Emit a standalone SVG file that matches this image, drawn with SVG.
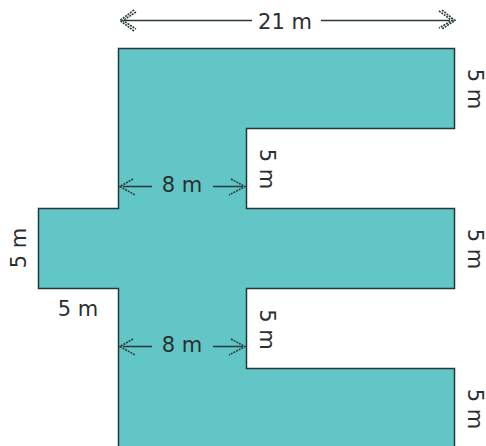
<svg xmlns="http://www.w3.org/2000/svg" width="486" height="446" viewBox="0 0 486 446">
<style>
.t{font-family:"DejaVu Sans",sans-serif;font-size:21px;fill:#2b2f2f;text-anchor:middle}
.d{fill:none;stroke:#2a3a3a;stroke-width:1.6}
.h{fill:none;stroke:#2a3a3a;stroke-width:1.6;stroke-dasharray:2 1}
</style>
<rect width="486" height="446" fill="#fff"/>
<path d="M118.500 450V288.500H38.500V208.500H118.500V48.500H454.500V128.500H246.500V208.500H454.500V288.500H246.500V368.500H454.500V450" fill="#62c6c6" stroke="#24383c" stroke-width="1.500"/>
<g id="connectors">
<path class="d" d="M124 20.500H252M321 20.500H450"/>
<path class="h" d="M136 12L123 20.500L136 29M134 10L120 20.500L134 31M439 11L452 20.500L439 28M442 10L455 20.500L442 29"/>
<path class="d" d="M123 186.500H152M213 186.500H243"/>
<path class="h" d="M133 179L120 186.500L135 195M231 179L245 186.500L229 195"/>
<path class="d" d="M123 346.500H152M213 346.500H243"/>
<path class="h" d="M133 339L120 346.500L135 355M231 339L245 346.500L229 355"/>
</g>
<g id="labels">
<text class="t" x="285" y="29">21 m</text>
<text class="t" x="182" y="192">8 m</text>
<text class="t" x="182" y="352">8 m</text>
<text class="t" x="78" y="316">5 m</text>
<text class="t" transform="translate(26 248) rotate(-90)">5 m</text>
<text class="t" transform="translate(260 169) rotate(90)">5 m</text>
<text class="t" transform="translate(260 329.500) rotate(90)">5 m</text>
<text class="t" transform="translate(468 89) rotate(90)">5 m</text>
<text class="t" transform="translate(468 249) rotate(90)">5 m</text>
<text class="t" transform="translate(468 409) rotate(90)">5 m</text>
</g>
</svg>
